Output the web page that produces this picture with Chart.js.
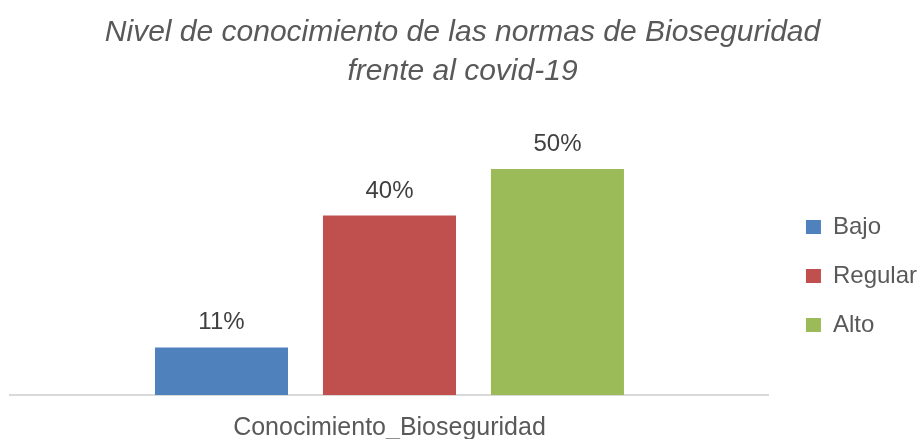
<!DOCTYPE html>
<html><head><meta charset="utf-8">
<script src="https://cdn.jsdelivr.net/npm/chart.js@4.4.0/dist/chart.umd.min.js"></script>
<style>html,body{margin:0;padding:0;background:#fff;}</style>
</head><body>
<canvas id="c" width="919" height="439"></canvas>
<script>
const titleLines = ['Nivel de conocimiento de las normas de Bioseguridad', 'frente al covid-19'];
const categories = ['Conocimiento_Bioseguridad'];
const seriesNames = ['Bajo', 'Regular', 'Alto'];
const bajoValues = [10.5];
const regularValues = [39.6];
const altoValues = [49.9];
const seriesColors = ['#4F81BD', '#C0504D', '#9BBB59'];
const yMax = 60;

const FONT = '"Liberation Sans", Arial, sans-serif';

const dataLabelPlugin = {
  id: 'dataLabels',
  afterDatasetsDraw(chart) {
    const ctx = chart.ctx;
    ctx.save();
    ctx.font = 'normal 24px ' + FONT;
    ctx.fillStyle = '#404040';
    ctx.textAlign = 'center';
    ctx.textBaseline = 'alphabetic';
    chart.data.datasets.forEach((ds, i) => {
      const meta = chart.getDatasetMeta(i);
      meta.data.forEach((el, j) => {
        ctx.fillText(Math.round(ds.data[j]) + '%', el.x, el.y - 18);
      });
    });
    ctx.restore();
  }
};

const legendShift = {
  id: 'legendShift',
  afterLayout(chart) {
    const l = chart.legend;
    if (!l) return;
    l.left += 12; l.right += 12;
    l.top += 17; l.bottom += 17;
  }
};

const datasetValues = [bajoValues, regularValues, altoValues];

new Chart(document.getElementById('c'), {
  type: 'bar',
  data: {
    labels: categories,
    datasets: seriesNames.map((name, i) => ({
      label: name,
      data: datasetValues[i],
      backgroundColor: seriesColors[i],
      borderWidth: 0,
      categoryPercentage: 0.664,
      barPercentage: 0.792
    }))
  },
  options: {
    responsive: false,
    animation: false,
    events: [],
    layout: { padding: { left: 10, right: 4, top: 0, bottom: -23 } },
    plugins: {
      title: {
        display: true,
        text: titleLines,
        color: '#595959',
        font: { family: FONT, size: 30, style: 'italic', weight: 'normal', lineHeight: 1.3 },
        padding: { top: 13.1, bottom: 32.1 }
      },
      legend: {
        display: true,
        position: 'right',
        align: 'center',
        fullSize: false,
        labels: {
          color: '#595959',
          font: { family: FONT, size: 24 },
          boxWidth: 15,
          boxHeight: 14,
          padding: 25
        }
      },
      tooltip: { enabled: false }
    },
    scales: {
      x: {
        grid: { display: false, drawTicks: false },
        border: { display: true, color: '#d9d9d9', width: 2 },
        ticks: {
          color: '#595959',
          font: { family: FONT, size: 25, lineHeight: 1.0 },
          padding: 21
        }
      },
      y: {
        display: false,
        min: 0,
        max: yMax
      }
    }
  },
  plugins: [dataLabelPlugin, legendShift]
});
</script>
</body></html>
